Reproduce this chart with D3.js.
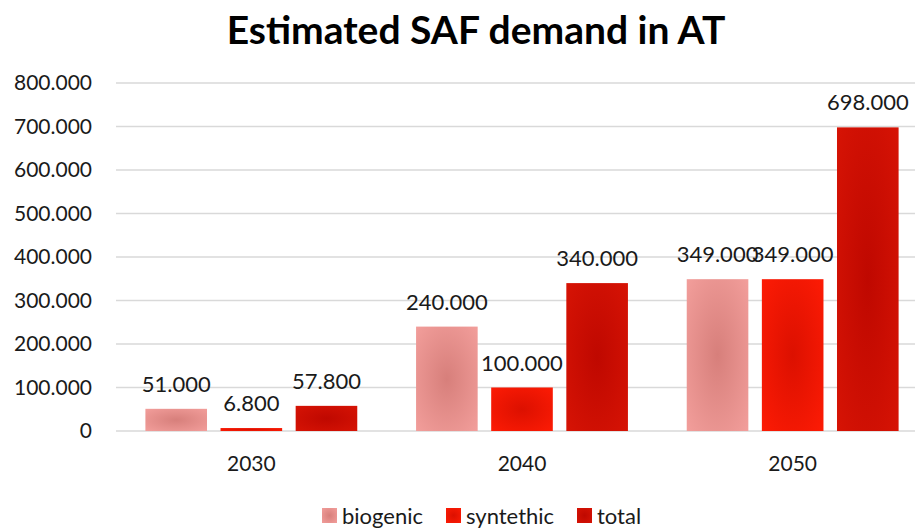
<!DOCTYPE html>
<html><head><meta charset="utf-8">
<script src="https://cdn.jsdelivr.net/npm/d3@7"></script>
<style>body{margin:0;background:#fff}svg{display:block}text{font-family:Lato,"Open Sans",sans-serif}</style>
</head><body><svg id="c" width="915" height="529"></svg>
<script>
const categories = ["2030","2040","2050"];
const seriesNames = ["biogenic","synthetic","total"];
const legendLabels = ["biogenic","syntethic","total"];
const biogenic = [51000,240000,349000];
const synthetic = [6800,100000,349000];
const total = [57800,340000,698000];
const yTicks = [0,100000,200000,300000,400000,500000,600000,700000,800000];

const values = [biogenic, synthetic, total];
const svg = d3.select("#c");
const W=915,H=529, m={l:116,t:83,b:98};
const plotRight = 928;
const fmt = v => v===0 ? "0" : d3.format(",")(v).replace(/,/g,".");

const defs = svg.append("defs");
const grads = [
  {id:"g0", stops:[["0%","#d77f7b"],["100%","#f4a09d"]]},
  {id:"g1", stops:[["0%","#dc1000"],["100%","#ff1c05"]]},
  {id:"g2", stops:[["0%","#bf0800"],["100%","#d81405"]]}
];
grads.forEach(g=>{
  const rg = defs.append("radialGradient").attr("id",g.id).attr("cx","50%").attr("cy","50%").attr("r","75%");
  g.stops.forEach(s=>rg.append("stop").attr("offset",s[0]).attr("stop-color",s[1]));
});

const x0 = d3.scaleBand().domain(categories).range([m.l, plotRight]).paddingInner(0).paddingOuter(0);
const outer = 29.4;
const x1 = d3.scaleBand().domain(seriesNames).range([outer, x0.bandwidth()-outer]).paddingInner(0.18).paddingOuter(0);
const y = d3.scaleLinear().domain([0,800000]).range([H-m.b, m.t]);

// grid
svg.append("g").selectAll("line").data(yTicks).join("line")
  .attr("x1",m.l).attr("x2",W).attr("y1",d=>y(d)).attr("y2",d=>y(d))
  .attr("stroke","#d9d9d9").attr("stroke-width",1.3);

// y labels
svg.append("g").selectAll("text").data(yTicks).join("text")
  .attr("x",92).attr("y",d=>y(d)).attr("dy","0.35em").attr("text-anchor","end")
  .attr("font-size",21).attr("fill","#1a1a1a").text(fmt);

// bars
const groups = svg.append("g").selectAll("g").data(categories).join("g")
  .attr("transform",d=>`translate(${x0(d)},0)`);
seriesNames.forEach((s,si)=>{
  groups.append("rect")
    .attr("x",x1(s)).attr("width",x1.bandwidth())
    .attr("y",(d,i)=>y(values[si][i])).attr("height",(d,i)=>y(0)-y(values[si][i]))
    .attr("fill",`url(#g${si})`);
  groups.append("text")
    .attr("x",x1(s)+x1.bandwidth()/2).attr("y",(d,i)=>y(values[si][i])-17)
    .attr("text-anchor","middle").attr("font-size",22).attr("fill","#1a1a1a")
    .text((d,i)=>fmt(values[si][i]));
});

// x labels
svg.append("g").selectAll("text").data(categories).join("text")
  .attr("x",d=>x0(d)+x0.bandwidth()/2).attr("y",471).attr("text-anchor","middle")
  .attr("font-size",21).attr("fill","#1a1a1a").text(d=>d);

// title
svg.append("text").attr("x",476).attr("y",44).attr("text-anchor","middle")
  .attr("font-size",39).attr("font-weight","bold").attr("fill","#000").text("Estimated SAF demand in AT");

// legend
const legX = [322,446,577];
const leg = svg.append("g").selectAll("g").data(seriesNames).join("g")
  .attr("transform",(d,i)=>`translate(${legX[i]},508)`);
leg.append("rect").attr("width",15).attr("height",15).attr("fill",(d,i)=>`url(#g${i})`);
leg.append("text").attr("x",20).attr("y",8).attr("dy","0.35em").attr("font-size",22).attr("fill","#1a1a1a")
  .text((d,i)=>legendLabels[i]);
</script></body></html>
